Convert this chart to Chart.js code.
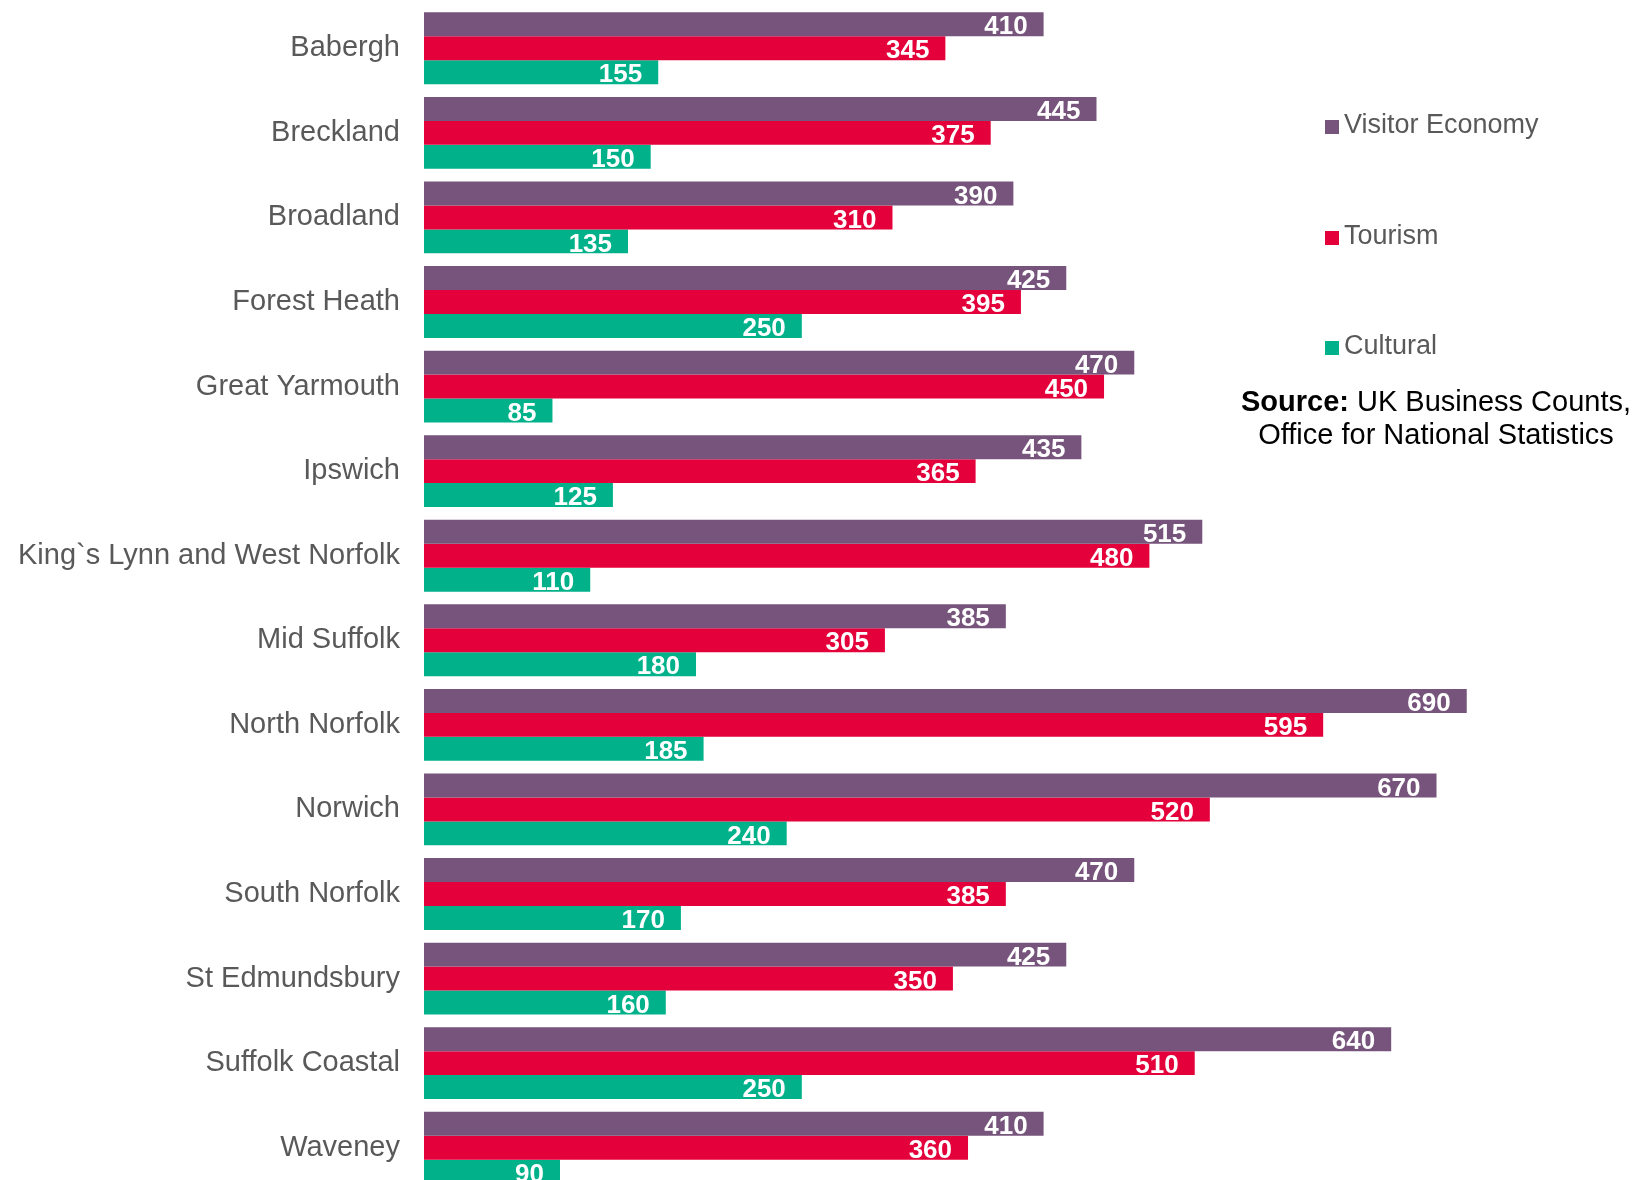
<!DOCTYPE html>
<html>
<head>
<meta charset="utf-8">
<script src="https://cdn.jsdelivr.net/npm/chart.js@4/dist/chart.umd.min.js"></script>
<style>
  html, body { margin: 0; padding: 0; background: #ffffff; overflow: hidden; }
  #wrap { position: relative; width: 1636px; height: 1200px; }
</style>
</head>
<body>
<div id="wrap"><canvas id="c"></canvas></div>
<script>
const categories = ["Babergh", "Breckland", "Broadland", "Forest Heath", "Great Yarmouth", "Ipswich",
  "King`s Lynn and West Norfolk", "Mid Suffolk", "North Norfolk", "Norwich", "South Norfolk",
  "St Edmundsbury", "Suffolk Coastal", "Waveney"];
const visitorEconomy = [410, 445, 390, 425, 470, 435, 515, 385, 690, 670, 470, 425, 640, 410];
const tourism = [345, 375, 310, 395, 450, 365, 480, 305, 595, 520, 385, 350, 510, 360];
const cultural = [155, 150, 135, 250, 85, 125, 110, 180, 185, 240, 170, 160, 250, 90];
const seriesNames = ["Visitor Economy", "Tourism", "Cultural"];
const seriesColors = ["#76547B", "#E4003B", "#00B18A"];
const sourceLines = [["Source:", " UK Business Counts,"], ["", "Office for National Statistics"]];

const FONT = "'Liberation Sans', Arial, sans-serif";

const valueLabels = {
  id: 'valueLabels',
  afterDatasetsDraw(chart) {
    const ctx = chart.ctx;
    ctx.save();
    ctx.font = "bold 26px " + FONT;
    ctx.fillStyle = "#ffffff";
    ctx.textAlign = "right";
    ctx.textBaseline = "middle";
    chart.data.datasets.forEach((ds, di) => {
      const meta = chart.getDatasetMeta(di);
      meta.data.forEach((el, i) => {
        ctx.fillText(String(ds.data[i]), el.x - 16, el.y + 3);
      });
    });
    ctx.restore();
  }
};

const sideLegend = {
  id: 'sideLegend',
  afterDraw(chart) {
    const ctx = chart.ctx;
    ctx.save();
    const ys = [126, 237, 347];
    ctx.textBaseline = "middle";
    ctx.textAlign = "left";
    chart.data.datasets.forEach((ds, i) => {
      ctx.fillStyle = ds.backgroundColor;
      ctx.fillRect(1325, ys[i] - 6, 14, 14);
      ctx.fillStyle = "#595959";
      ctx.font = "27px " + FONT;
      ctx.fillText(ds.label, 1344, ys[i]);
    });
    const cx = 1436;
    const lineY = [403, 436];
    sourceLines.forEach((parts, li) => {
      ctx.font = "bold 29px " + FONT;
      const w1 = ctx.measureText(parts[0]).width;
      ctx.font = "29px " + FONT;
      const w2 = ctx.measureText(parts[1]).width;
      let x = cx - (w1 + w2) / 2;
      ctx.fillStyle = "#000000";
      ctx.font = "bold 29px " + FONT;
      ctx.fillText(parts[0], x, lineY[li]);
      ctx.font = "29px " + FONT;
      ctx.fillText(parts[1], x + w1, lineY[li]);
    });
    ctx.restore();
  }
};

const chart = new Chart(document.getElementById('c'), {
  type: 'bar',
  data: {
    labels: categories,
    datasets: [
      { label: seriesNames[0], data: visitorEconomy, backgroundColor: seriesColors[0] },
      { label: seriesNames[1], data: tourism, backgroundColor: seriesColors[1] },
      { label: seriesNames[2], data: cultural, backgroundColor: seriesColors[2] }
    ]
  },
  options: {
    indexAxis: 'y',
    responsive: true,
    maintainAspectRatio: false,
    animation: false,
    layout: { padding: { top: 6, bottom: 10, left: 0, right: 0 } },
    datasets: { bar: { categoryPercentage: 0.85, barPercentage: 1.0, borderWidth: 0 } },
    plugins: { legend: { display: false }, tooltip: { enabled: false } },
    scales: {
      x: { display: false, min: 0, max: 802 },
      y: {
        grid: { display: false, drawTicks: false },
        border: { display: false },
        ticks: { color: "#595959", font: { family: FONT, size: 29 }, padding: 24, autoSkip: false },
        afterFit(scale) { scale.width = 424; scale.paddingTop = 0; scale.paddingBottom = 0; }
      }
    }
  },
  plugins: [valueLabels, sideLegend]
});
</script>
</body>
</html>
